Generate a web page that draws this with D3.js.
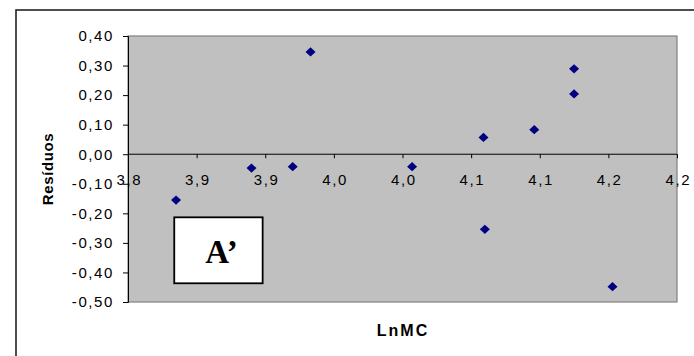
<!DOCTYPE html>
<html>
<head>
<meta charset="utf-8">
<script src="https://cdn.jsdelivr.net/npm/d3@7/dist/d3.min.js"></script>
<style>
  html, body { margin: 0; padding: 0; background: #fff; }
  svg { display: block; }
</style>
</head>
<body>
<svg id="chart" width="694" height="356"></svg>
<script>
// ---- data ----
const lnMC     = [3.835, 3.890, 3.920, 3.933, 4.007, 4.059, 4.060, 4.096, 4.125, 4.125, 4.153];
const residuos = [-0.155, -0.047, -0.042, 0.346, -0.042, 0.057, -0.254, 0.083, 0.204, 0.289, -0.448];
const xTicks = [3.80, 3.85, 3.90, 3.95, 4.00, 4.05, 4.10, 4.15, 4.20];
const xTickLabels = ["3,8", "3,9", "3,9", "4,0", "4,0", "4,1", "4,1", "4,2", "4,2"];
const yTicks = [0.40, 0.30, 0.20, 0.10, 0.00, -0.10, -0.20, -0.30, -0.40, -0.50];
const yTickLabels = ["0,40", "0,30", "0,20", "0,10", "0,00", "-0,10", "-0,20", "-0,30", "-0,40", "-0,50"];
const xTitle = "LnMC";
const yTitle = "Resíduos";
const boxLabel = "A\u2019";
const boxExtent = { x0: 3.8337, x1: 3.8981, y0: -0.2135, y1: -0.4367 };

// ---- layout ----
const plot = { left: 128, top: 36, right: 677, bottom: 302 };
const SANS = "'Liberation Sans', Arial, sans-serif";
const SERIF = "'Liberation Serif', 'Times New Roman', serif";

const svg = d3.select("#chart");

// outer frame
svg.append("rect")
  .attr("x", 16).attr("y", 10)
  .attr("width", 720).attr("height", 420)
  .attr("fill", "#fff").attr("stroke", "#222").attr("stroke-width", 1.6);

const x = d3.scaleLinear().domain([3.8, 4.2]).range([plot.left, plot.right]);
const y = d3.scaleLinear().domain([-0.5, 0.4]).range([plot.bottom, plot.top]);

// plot area
svg.append("rect")
  .attr("x", plot.left).attr("y", plot.top)
  .attr("width", plot.right - plot.left).attr("height", plot.bottom - plot.top)
  .attr("fill", "#c0c0c0").attr("stroke", "#808080").attr("stroke-width", 1.2);

// y axis
const yAxis = d3.axisLeft(y).tickValues(yTicks)
  .tickFormat((d, i) => yTickLabels[i]).tickSize(5).tickPadding(9);
const gy = svg.append("g").attr("transform", `translate(${plot.left},0)`).call(yAxis);
gy.attr("font-family", null).attr("font-size", null);
gy.select(".domain").attr("stroke", "#000");
gy.selectAll(".tick line").attr("stroke", "#000");
gy.selectAll(".tick text")
  .attr("fill", "#000")
  .style("font-family", SANS).style("font-size", "15px")
  .style("letter-spacing", "1.6px");

// x axis at y=0
const xAxis = d3.axisBottom(x).tickValues(xTicks)
  .tickFormat((d, i) => xTickLabels[i]).tickSize(4).tickPadding(16);
const gx = svg.append("g").attr("transform", `translate(0,${y(0)})`).call(xAxis);
gx.attr("font-family", null).attr("font-size", null);
gx.select(".domain").attr("stroke", "#000").attr("d", `M${plot.left},0H${plot.right}`);
gx.selectAll(".tick line").attr("stroke", "#000");
gx.selectAll(".tick text")
  .attr("fill", "#000")
  .attr("dx", "0.8px")
  .style("font-family", SANS).style("font-size", "15px")
  .style("letter-spacing", "1.6px");

// annotation box
svg.append("rect")
  .attr("x", x(boxExtent.x0)).attr("y", y(boxExtent.y0))
  .attr("width", x(boxExtent.x1) - x(boxExtent.x0))
  .attr("height", y(boxExtent.y1) - y(boxExtent.y0))
  .attr("fill", "#fff").attr("stroke", "#000").attr("stroke-width", 1.8);
svg.append("text")
  .attr("x", (x(boxExtent.x0) + x(boxExtent.x1)) / 2 + 3)
  .attr("y", y(boxExtent.y0) + 45.5)
  .attr("text-anchor", "middle")
  .style("font-family", SERIF)
  .style("font-weight", "bold")
  .style("font-size", "33px")
  .attr("fill", "#000")
  .text(boxLabel);

// points
const diamond = "M0,-4.6L5,0L0,4.6L-5,0Z";
svg.append("g").selectAll("path")
  .data(lnMC.map((v, i) => [v, residuos[i]]))
  .join("path")
  .attr("d", diamond)
  .attr("transform", d => `translate(${x(d[0])},${y(d[1])})`)
  .attr("fill", "#000080");

// titles
svg.append("text")
  .attr("x", (plot.left + plot.right) / 2 + 0.5)
  .attr("y", 335.5)
  .attr("text-anchor", "middle")
  .style("font-family", SANS)
  .style("font-weight", "bold")
  .style("font-size", "16px")
  .style("letter-spacing", "2px")
  .attr("fill", "#000")
  .text(xTitle);

svg.append("text")
  .attr("transform", `translate(52.5,${(plot.top + plot.bottom) / 2}) rotate(-90)`)
  .attr("text-anchor", "middle")
  .style("font-family", SANS)
  .style("font-weight", "bold")
  .style("font-size", "15px")
  .style("letter-spacing", "0.6px")
  .attr("fill", "#000")
  .text(yTitle);
</script>
</body>
</html>
